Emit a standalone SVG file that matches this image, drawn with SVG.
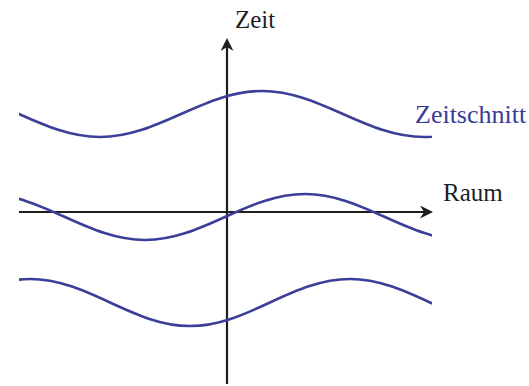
<svg xmlns="http://www.w3.org/2000/svg" width="529" height="386" viewBox="0 0 529 386">
  <style>
    .axis { stroke: #1e1e1e; stroke-width: 2.2; fill: none; marker-end: url(#arrow); }
    .wave { stroke: #3b3f98; stroke-width: 2.6; fill: none; stroke-linecap: round; }
    .lbl { font-family: "Liberation Serif", "Times New Roman", serif; font-size: 25px; fill: #1e1e1e; }
    .wlbl { font-family: "Liberation Serif", "Times New Roman", serif; font-size: 26px; fill: #3a3c94; }
  </style>
  <defs>
    <marker id="arrow" markerUnits="userSpaceOnUse" markerWidth="14" markerHeight="14" refX="10" refY="6.5" orient="auto">
      <path d="M0,0 L13,6.5 L0,13 L4,6.5 Z" fill="#1e1e1e"/>
    </marker>
    <clipPath id="clip">
      <rect x="19" y="0" width="413" height="386"/>
    </clipPath>
  </defs>
  <rect width="529" height="386" fill="#ffffff"/>
  <g id="connectors">
    <line id="raum-axis" class="axis" x1="19" y1="212" x2="430" y2="212"/>
    <line id="zeit-axis" class="axis" x1="227" y1="384" x2="227" y2="41"/>
  </g>
  <g id="waves" clip-path="url(#clip)">
    <path id="wave-top" class="wave" d="M -62 91 C -3.1 91, 41.1 137, 100 137 C 158.9 137, 203.1 91, 262 91 C 320.9 91, 365.1 137, 424 137 C 482.9 137, 527.1 91, 586 91"/>
    <path id="wave-middle" class="wave" d="M -15 194 C 43.1 194, 86.9 240, 145 240 C 203.1 240, 246.9 194, 305 194 C 363.1 194, 406.9 240, 465 240"/>
    <path id="wave-bottom" class="wave" d="M -130 326 C -71.9 326, -28.1 279, 30 279 C 88.1 279, 131.9 326, 190 326 C 248.1 326, 291.9 279, 350 279 C 408.1 279, 451.9 326, 510 326"/>
  </g>
  <g id="label-zeit"><text class="lbl" x="235" y="28">Zeit</text></g>
  <g id="label-raum"><text class="lbl" x="443" y="201">Raum</text></g>
  <g id="label-zeitschnitt"><text class="wlbl" x="415" y="123">Zeitschnitt</text></g>
</svg>
